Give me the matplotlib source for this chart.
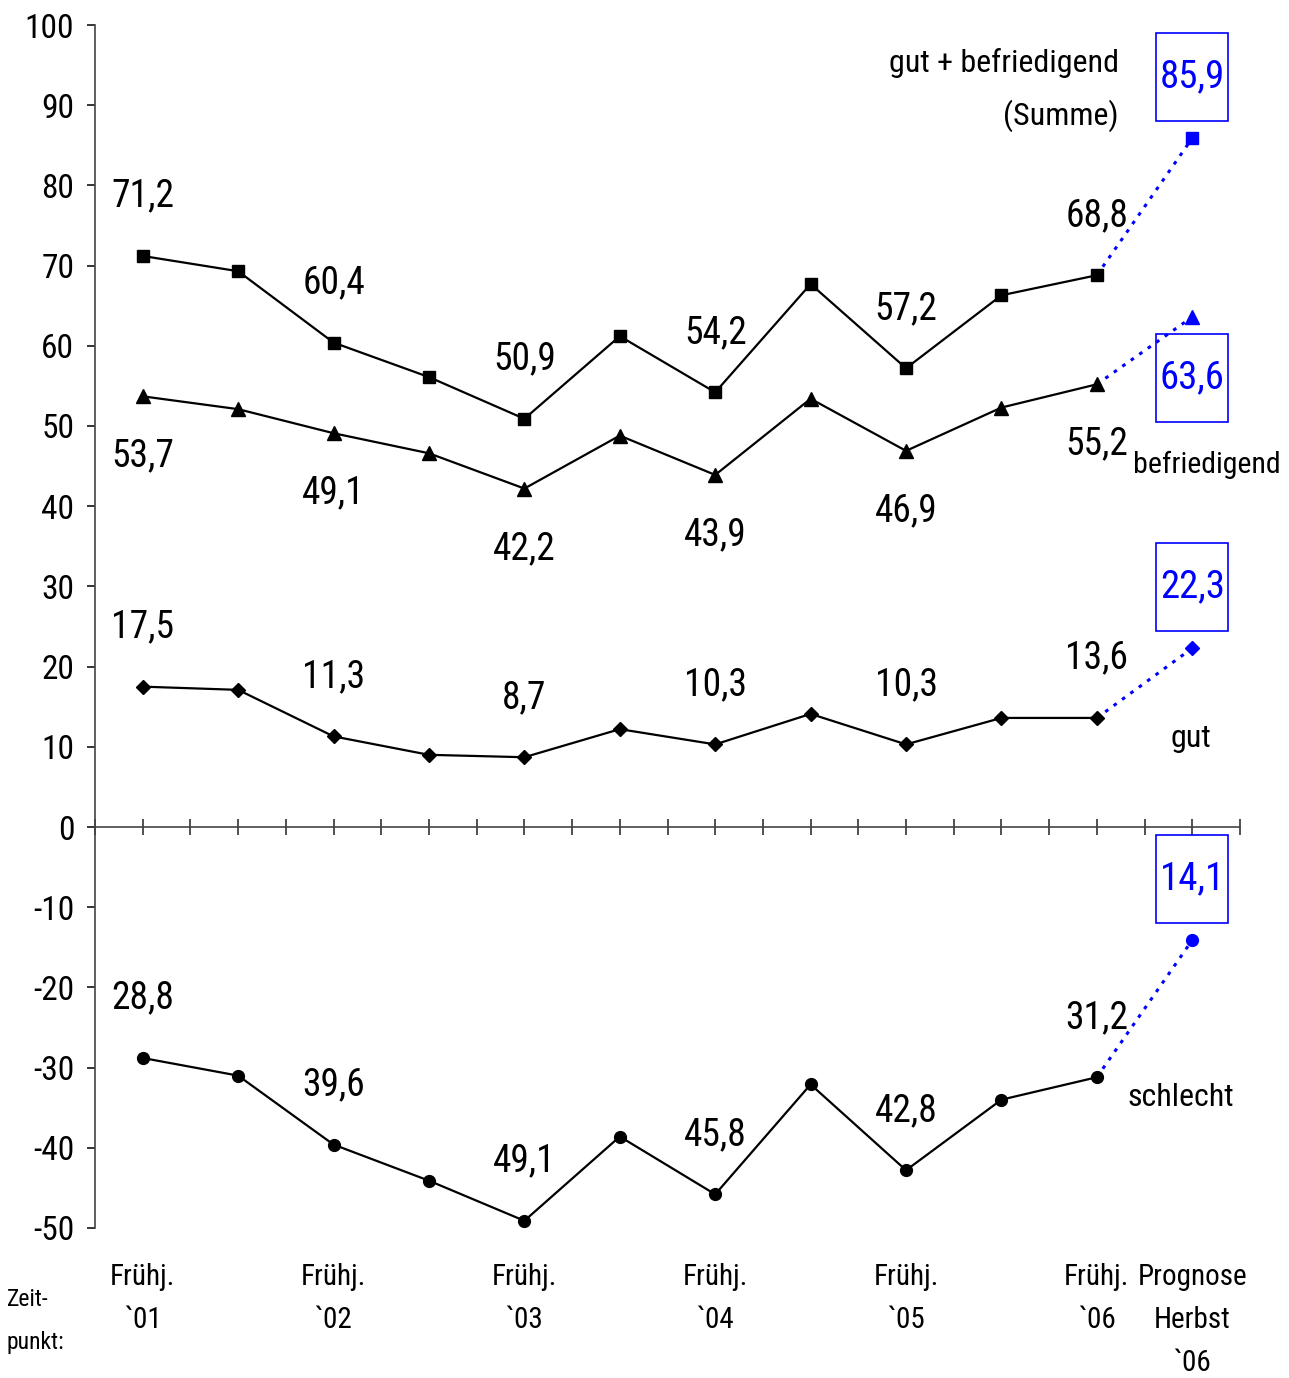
import matplotlib
matplotlib.use("Agg")
import matplotlib.pyplot as plt
import numpy as np
from matplotlib.path import Path

plt.rcParams['axes.unicode_minus'] = False
FONT = ['Arial Narrow', 'Liberation Sans Narrow', 'Roboto Condensed',
        'Liberation Sans', 'DejaVu Sans']
plt.rcParams['font.family'] = FONT

# ---------------- data ----------------
x_labels = ['Frühj.\n`01', '', 'Frühj.\n`02', '', 'Frühj.\n`03', '',
            'Frühj.\n`04', '', 'Frühj.\n`05', '', 'Frühj.\n`06']
prog_label = 'Prognose\nHerbst\n`06'

summe = [71.2, 69.3, 60.4, 56.1, 50.9, 61.2, 54.2, 67.7, 57.2, 66.3, 68.8]
befriedigend = [53.7, 52.1, 49.1, 46.6, 42.2, 48.8, 43.9, 53.4, 46.9, 52.3, 55.2]
gut = [17.5, 17.1, 11.3, 9.0, 8.7, 12.2, 10.3, 14.1, 10.3, 13.6, 13.6]
schlecht = [-28.8, -31.0, -39.6, -44.1, -49.1, -38.6, -45.8, -32.1, -42.8, -34.0, -31.2]

prog_summe = 85.9
prog_befriedigend = 63.6
prog_gut = 22.3
prog_schlecht = -14.1

labeled_idx = [0, 2, 4, 6, 8, 10]
y_ticks = list(range(-50, 101, 10))

# ---------------- figure ----------------
W, H = 1289, 1378
fig = plt.figure(figsize=(W / 100, H / 100), dpi=100)
ax = fig.add_axes([95 / W, 1 - 1228 / H, 1145 / W, (1228 - 25) / H])
ax.set_xlim(-0.5, 11.5)
ax.set_ylim(-50, 100)

n = len(summe)
xs = np.arange(n)
xp = n  # prognosis position

BLUE = '#0000FF'
series = [
    (summe, prog_summe, 's', 8.5, 1),
    (befriedigend, prog_befriedigend, '^', 10.5, -1),
    (gut, prog_gut, 'D', 7.5, 1),
    (schlecht, prog_schlecht, 'o', 8.5, 1),
]


def fixed_box(x0, y0, width, height, mutation_size):
    cx = x0 + width / 2
    cy = y0 + height / 2
    w, h = 72, 88
    verts = [(cx - w / 2, cy - h / 2), (cx + w / 2, cy - h / 2),
             (cx + w / 2, cy + h / 2), (cx - w / 2, cy + h / 2),
             (cx - w / 2, cy - h / 2)]
    return Path(verts, closed=True)


def fmt(v):
    return f"{abs(v):.1f}".replace('.', ',')


for vals, prog, mk, ms, side in series:
    ax.plot(xs, vals, color='black', lw=1.6, marker=mk, ms=ms,
            mfc='black', mec='black', zorder=3)
    ax.plot([xs[-1], xp], [vals[-1], prog], color=BLUE, lw=2.2,
            linestyle=(0, (1.2, 2.2)), zorder=2)
    ax.plot([xp], [prog], marker=mk, ms=ms, color=BLUE, zorder=3)
    for i in labeled_idx:
        ax.annotate(fmt(vals[i]), xy=(xs[i], vals[i]),
                    xytext=(0, side * 43), textcoords='offset points',
                    ha='center', va='center', fontsize=27)
    box_side = -1 if vals is befriedigend else 1
    ax.annotate(fmt(prog), xy=(xp, prog), xytext=(0, box_side * 44),
                textcoords='offset points', ha='center', va='center',
                fontsize=28, color=BLUE,
                bbox=dict(boxstyle=fixed_box, fc='none', ec=BLUE, lw=1.2))

# series labels
ax.text(10.23, 91.9, 'gut + befriedigend\n(Summe)', ha='right', va='center',
        multialignment='right', fontsize=23, linespacing=1.85)
ax.text(10.38, 45.1, 'befriedigend', ha='left', va='center', fontsize=21.5)
ax.text(10.98, 11.0, 'gut', ha='center', va='center', fontsize=23)
ax.text(10.88, -33.7, 'schlecht', ha='center', va='center', fontsize=23)

# axes styling
for s in ['top', 'right']:
    ax.spines[s].set_visible(False)
ax.spines['bottom'].set_position(('data', 0))
ax.spines['bottom'].set_color('#444444')
ax.spines['bottom'].set_linewidth(1.2)
ax.spines['left'].set_linewidth(1.2)
ax.spines['left'].set_color('#444444')

ax.set_yticks(y_ticks)
ax.set_yticklabels([str(t) for t in y_ticks])
ax.tick_params(axis='y', direction='out', length=6, width=1.1, pad=9,
               labelsize=24, colors='black')
ax.set_xticks(np.arange(-0.5, 11.51, 0.5))
ax.set_xticklabels([])
ax.tick_params(axis='x', direction='inout', length=12, width=1.1, color='#222222')

all_labels = x_labels + [prog_label]
for i, lab in enumerate(all_labels):
    if lab:
        ax.annotate(lab, xy=(i, 0), xycoords=ax.get_xaxis_transform(),
                    xytext=(0, -25), textcoords='offset points',
                    ha='center', va='top', fontsize=21, linespacing=1.68)

fig.text(7 / W, 1 - 1321 / H, 'Zeit-\npunkt:', ha='left', va='center',
         fontsize=17, linespacing=2.1)

fig.savefig('out.png', dpi=100)
